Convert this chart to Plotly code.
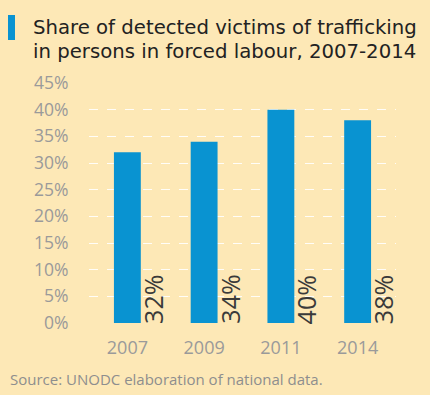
import plotly.graph_objects as go

years = ["2007", "2009", "2011", "2014"]
shares = [32, 34, 40, 38]
value_labels = ["32%", "34%", "40%", "38%"]
y_ticks = [0, 5, 10, 15, 20, 25, 30, 35, 40, 45]
y_tick_labels = [f"{t}%" for t in y_ticks]

W, H = 430, 395
L, R, T, B = 89, 34, 83, 72
PH = H - T - B
PW = W - L - R

def py(p):
    return (H - B - p) / PH

def px(p):
    return (p - L) / PW

BG = "#FDE8B6"
BLUE = "#0993D1"
FONT = "Open Sans, Noto Sans, sans-serif"
TFONT = "DejaVu Sans, sans-serif"

fig = go.Figure()
fig.add_trace(go.Bar(x=years, y=shares, width=0.35, marker=dict(color=BLUE, line=dict(width=0)),
                     text=value_labels, textposition="none", hoverinfo="skip"))

annotations = []
for i, lab in enumerate(value_labels):
    annotations.append(dict(x=i, y=0, xref="x", yref="y", text=lab, showarrow=False,
                            textangle=-90, xanchor="center", yanchor="bottom", xshift=25, yshift=-3,
                            font=dict(family=FONT, size=25, color="#3a3a3a")))

annotations.append(dict(x=px(31), y=py(27.5), xref="paper", yref="paper", xanchor="left", yanchor="middle",
                        text="Share of detected victims of trafficking", showarrow=False,
                        font=dict(family=TFONT, size=19.7, color="#222222")))
annotations.append(dict(x=px(31), y=py(51.3), xref="paper", yref="paper", xanchor="left", yanchor="middle",
                        text="in persons in forced labour, 2007-2014", showarrow=False,
                        font=dict(family=TFONT, size=19.7, color="#222222")))
annotations.append(dict(x=px(8), y=py(379), xref="paper", yref="paper", xanchor="left", yanchor="middle",
                        text="Source: UNODC elaboration of national data.", showarrow=False,
                        font=dict(family=FONT, size=15, color="#8e8e8e")))

fig.update_layout(
    width=W, height=H,
    margin=dict(l=L, r=R, t=T, b=B, pad=0, autoexpand=False),
    paper_bgcolor=BG, plot_bgcolor=BG,
    showlegend=False,
    annotations=annotations,
    shapes=[dict(type="rect", xref="paper", yref="paper", x0=px(8), x1=px(15), y0=py(40), y1=py(15),
                 fillcolor=BLUE, line=dict(width=0))],
    xaxis=dict(type="category", categoryorder="array", categoryarray=years,
               range=[-0.5, 3.5], showgrid=False, showline=False, zeroline=False,
               ticks="outside", ticklen=8, tickcolor=BG, automargin=False,
               tickfont=dict(family=FONT, size=18, color="#9a9a9a")),
    yaxis=dict(range=[0, 45], tickvals=y_ticks, ticktext=y_tick_labels, showline=False, zeroline=False,
               automargin=False,
               showgrid=True, gridcolor="rgba(255,255,255,0.9)", gridwidth=1, griddash="dash",
               ticks="outside", ticklen=16, tickcolor=BG,
               tickfont=dict(family=FONT, size=17.5, color="#9a9a9a")),
)

fig.write_html("out.html", config={"displayModeBar": False},
               post_script="document.body.style.margin='0px';")
